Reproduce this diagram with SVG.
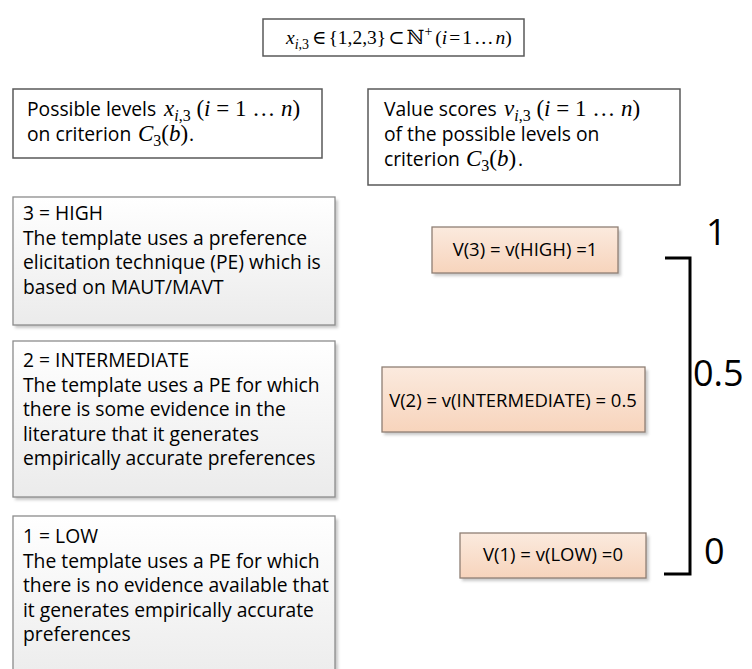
<svg xmlns="http://www.w3.org/2000/svg" width="752" height="669" viewBox="0 0 752 669">
<defs>
<linearGradient id="gGray" x1="0" y1="0" x2="0" y2="1">
<stop offset="0" stop-color="#ffffff"/>
<stop offset="1" stop-color="#ebebeb"/>
</linearGradient>
<linearGradient id="gPeach" x1="0" y1="0" x2="0" y2="1">
<stop offset="0" stop-color="#fbeade"/>
<stop offset="1" stop-color="#f7d4bc"/>
</linearGradient>
<filter id="sh" x="-10%" y="-10%" width="130%" height="130%">
<feGaussianBlur stdDeviation="1.5"/>
</filter>
<style>
.t{font-family:"Open Sans","Liberation Sans",sans-serif;font-size:19.3px;fill:#000}
.v{font-family:"Open Sans","Liberation Sans",sans-serif;font-size:18.5px;fill:#000}
.m{font-family:"Liberation Serif","DejaVu Serif",serif;font-size:19.5px;fill:#000}
.mt{font-family:"Liberation Serif","DejaVu Serif",serif;font-size:23px;fill:#000}
.i{font-style:italic}
.big{font-family:"Open Sans","Liberation Sans",sans-serif;font-size:36px;fill:#000}
.hdr{fill:#fff;stroke:#595959;stroke-width:1.5}
.lvl{fill:url(#gGray);stroke:#8c8c8c;stroke-width:1.3}
.val{fill:url(#gPeach);stroke:#8f7f74;stroke-width:1.3}
.shd{fill:#c8c8c8;filter:url(#sh)}
</style>
</defs>
<rect width="752" height="669" fill="#fff"/>

<g id="formula">
<rect class="hdr" x="263" y="19" width="261" height="37"/>
<text class="m" x="286" y="44"><tspan class="i">x</tspan><tspan class="i" font-size="14" y="49">i</tspan><tspan font-size="14" y="49">,3</tspan><tspan y="44" dx="3">∈</tspan><tspan dx="2">{1,2,3}</tspan><tspan dx="2">⊂</tspan><tspan dx="2">ℕ</tspan><tspan font-size="14" y="36">+</tspan><tspan y="44" dx="3">(</tspan><tspan class="i">i</tspan><tspan dx="2">=</tspan><tspan dx="2">1</tspan><tspan dx="2">…</tspan><tspan class="i" dx="2">n</tspan><tspan>)</tspan></text>
</g>

<g id="hdr-levels">
<rect class="hdr" x="13" y="89" width="309" height="69"/>
<text class="t" x="27" y="116">Possible levels</text>
<text class="mt" x="164" y="116"><tspan class="i">x</tspan><tspan class="i" font-size="16" y="121">i</tspan><tspan font-size="16" y="121">,3</tspan><tspan y="116"> (</tspan><tspan class="i">i</tspan><tspan> = 1 … </tspan><tspan class="i">n</tspan><tspan>)</tspan></text>
<text class="t" x="27" y="141">on criterion</text>
<text class="mt" x="138" y="141"><tspan class="i">C</tspan><tspan font-size="16" y="146">3</tspan><tspan y="141">(</tspan><tspan class="i">b</tspan><tspan>)</tspan></text>
<text class="t" x="189" y="141">.</text>
</g>

<g id="hdr-values">
<rect class="hdr" x="368" y="89" width="312" height="96"/>
<text class="t" x="384" y="116">Value scores</text>
<text class="mt" x="504" y="116"><tspan class="i">v</tspan><tspan class="i" font-size="16" y="121">i</tspan><tspan font-size="16" y="121">,3</tspan><tspan y="116"> (</tspan><tspan class="i">i</tspan><tspan> = 1 … </tspan><tspan class="i">n</tspan><tspan>)</tspan></text>
<text class="t" x="384" y="141">of the possible levels on</text>
<text class="t" x="384" y="166">criterion</text>
<text class="mt" x="466" y="166"><tspan class="i">C</tspan><tspan font-size="16" y="171">3</tspan><tspan y="166">(</tspan><tspan class="i">b</tspan><tspan>)</tspan></text>
<text class="t" x="518" y="166">.</text>
</g>

<g id="lvl-high">
<rect class="shd" x="15" y="200" width="323" height="128"/>
<rect class="lvl" x="13" y="197" width="322" height="128"/>
<text class="t" x="23" y="220">3 = HIGH</text>
<text class="t" x="23" y="245">The template uses a preference</text>
<text class="t" x="23" y="269">elicitation technique (PE) which is</text>
<text class="t" x="23" y="294">based on MAUT/MAVT</text>
</g>

<g id="lvl-intermediate">
<rect class="shd" x="15" y="344" width="323" height="156"/>
<rect class="lvl" x="13" y="341" width="322" height="156"/>
<text class="t" x="23" y="367">2 = INTERMEDIATE</text>
<text class="t" x="23" y="392">The template uses a PE for which</text>
<text class="t" x="23" y="416">there is some evidence in the</text>
<text class="t" x="23" y="441">literature that it generates</text>
<text class="t" x="23" y="465">empirically accurate preferences</text>
</g>

<g id="lvl-low">
<rect class="shd" x="15" y="519" width="323" height="170"/>
<rect class="lvl" x="13" y="516" width="322" height="170"/>
<text class="t" x="23" y="543">1 = LOW</text>
<text class="t" x="23" y="568">The template uses a PE for which</text>
<text class="t" x="23" y="592">there is no evidence available that</text>
<text class="t" x="23" y="617">it generates empirically accurate</text>
<text class="t" x="23" y="641">preferences</text>
</g>

<g id="val-high">
<rect class="shd" x="434" y="230" width="187" height="46"/>
<rect class="val" x="432" y="227" width="186" height="46"/>
<text class="v" x="525" y="256" text-anchor="middle">V(3) = v(HIGH) =1</text>
</g>

<g id="val-intermediate">
<rect class="shd" x="384" y="370" width="264" height="65"/>
<rect class="val" x="382" y="367" width="263" height="65"/>
<text class="v" x="513" y="407" text-anchor="middle">V(2) = v(INTERMEDIATE) = 0.5</text>
</g>

<g id="val-low">
<rect class="shd" x="462" y="536" width="187" height="45"/>
<rect class="val" x="460" y="533" width="186" height="45"/>
<text class="v" x="553" y="561" text-anchor="middle">V(1) = v(LOW) =0</text>
</g>

<g id="scale">
<path d="M665,258 H690 V574 H664" fill="none" stroke="#000" stroke-width="3"/>
<text class="big" x="706" y="245">1</text>
<text class="big" x="693" y="386">0.5</text>
<text class="big" x="704" y="564">0</text>
</g>
</svg>
